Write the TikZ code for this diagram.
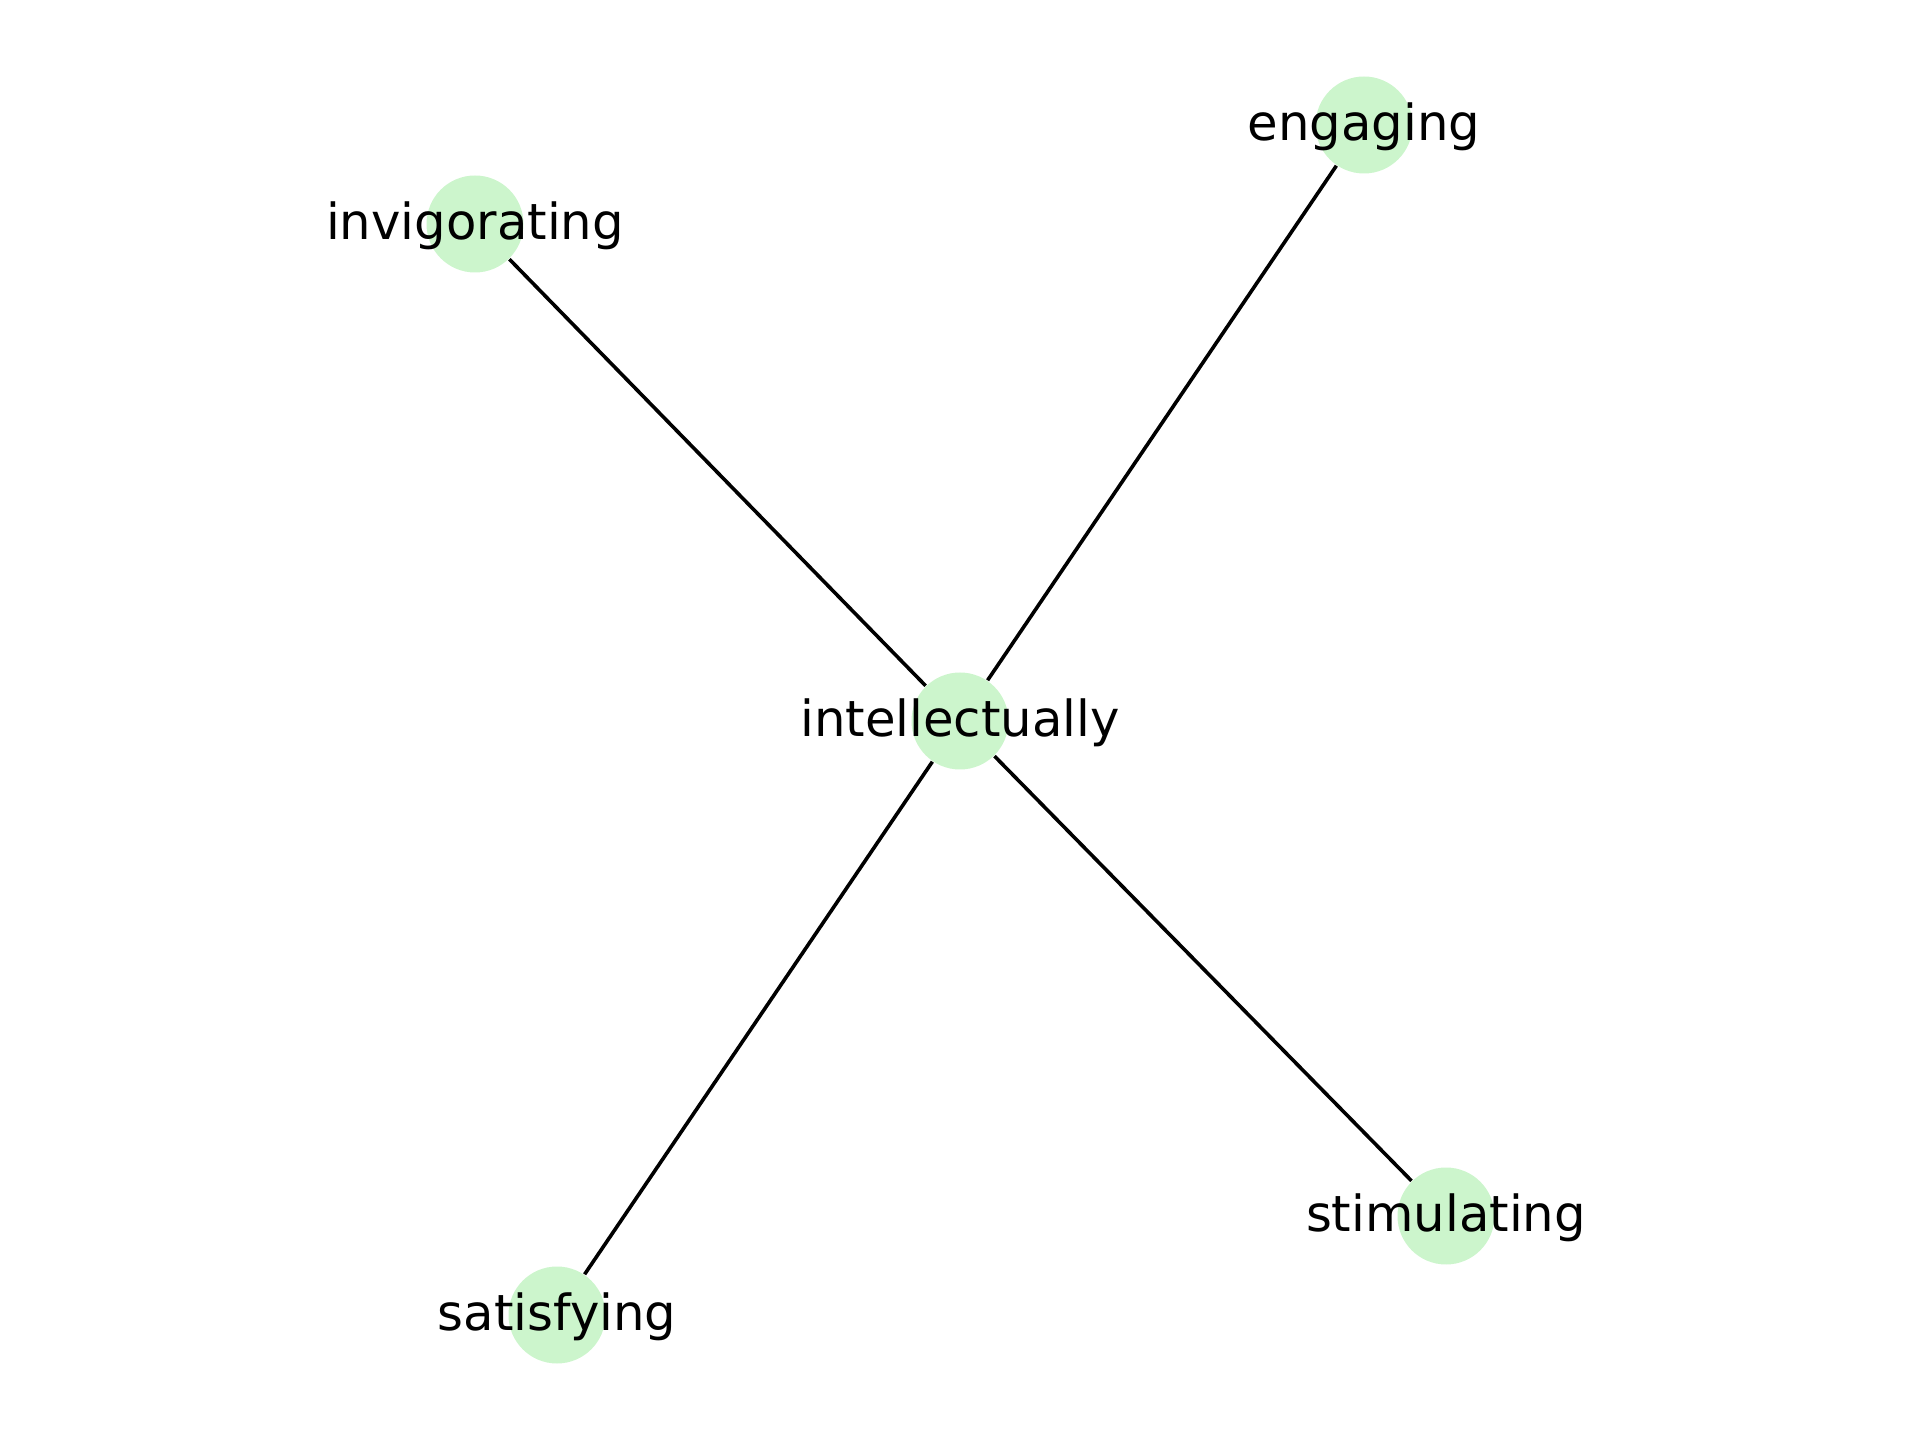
\documentclass[tikz,border=0pt]{standalone}
\usepackage{fontspec}
\setmainfont{DejaVu Sans}
\definecolor{nodegreen}{RGB}{204, 245, 204}
\usetikzlibrary{
  positioning,
}
\tikzset{
  word/.style={circle,fill=nodegreen,minimum size=9.7mm,inner sep=0pt,
    label={[font=\fontsize{14.15pt}{16pt}\selectfont,text=black,yshift=-0.15mm]center:#1}},
  edge/.style={draw=black,line width=0.36mm},
}
\begin{document}
\begin{tikzpicture}[x=0.1mm,y=-0.1mm]

        \useasboundingbox (0,0) rectangle (1920,1440);

        \node[word=intellectually]  (intel)   at (960,721)   {};
        \node[word=engaging]        (eng)     at (1364,125)  {};
        \node[word=invigorating]    (invig)   at (475,224)   {};
        \node[word=stimulating]     (stim)    at (1446,1216) {};
        \node[word=satisfying]      (sat)     at (557,1315)  {};

        \draw[edge] (intel) -- (eng);
        \draw[edge] (intel) -- (invig);
        \draw[edge] (intel) -- (stim);
        \draw[edge] (intel) -- (sat);

    \end{tikzpicture}
\end{document}
